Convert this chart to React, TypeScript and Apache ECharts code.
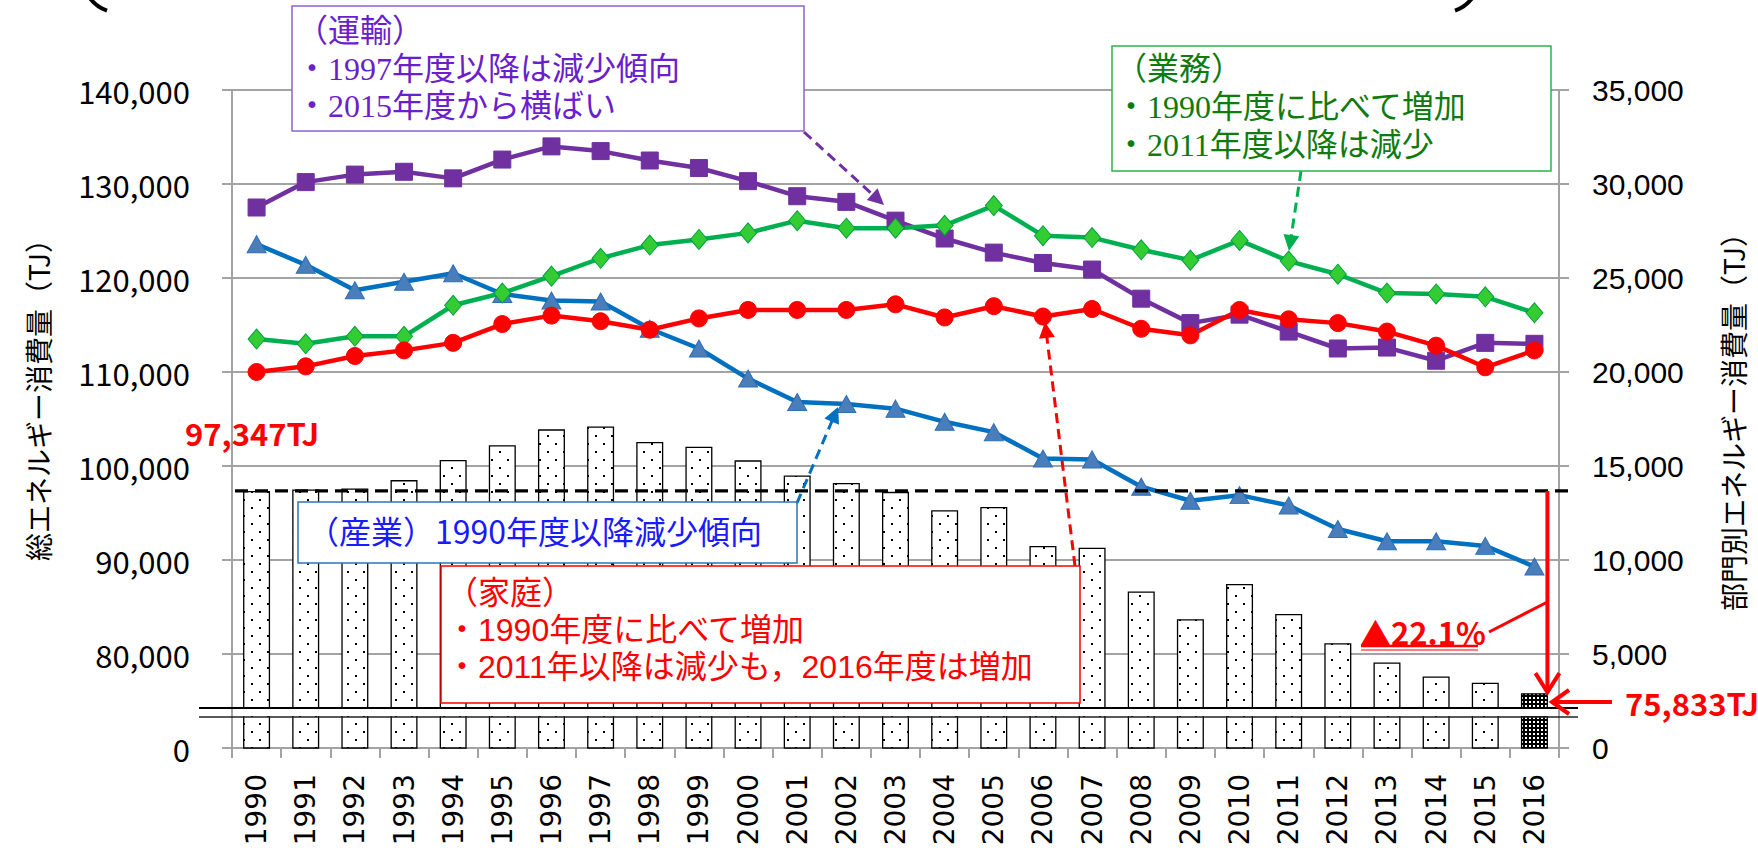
import { useEffect, useRef } from 'react';
import * as echarts from 'echarts';

// ---- data ----
const years = ['1990','1991','1992','1993','1994','1995','1996','1997','1998','1999','2000','2001','2002','2003','2004','2005','2006','2007','2008','2009','2010','2011','2012','2013','2014','2015','2016'];
// 総エネルギー消費量 (TJ)
const totalEnergy = [97347, 97500, 97600, 98500, 100650, 102200, 103900, 104200, 102550, 102050, 100600, 99000, 98200, 97250, 95300, 95650, 91500, 91300, 86650, 83700, 87450, 84250, 81150, 79100, 77600, 76950, 75833];
// 部門別 (TJ)
const industry = [26800, 25700, 24350, 24800, 25250, 24150, 23800, 23750, 22300, 21250, 19650, 18400, 18300, 18050, 17350, 16800, 15400, 15350, 13900, 13150, 13450, 12900, 11650, 11000, 11000, 10750, 9650];
const transport = [28750, 30100, 30500, 30650, 30300, 31300, 32000, 31750, 31250, 30850, 30150, 29350, 29050, 28050, 27100, 26350, 25800, 25450, 23900, 22600, 23050, 22150, 21250, 21300, 20600, 21550, 21500];
const commercial = [21750, 21500, 21900, 21900, 23550, 24200, 25100, 26050, 26750, 27050, 27400, 28050, 27650, 27650, 27800, 28850, 27250, 27150, 26500, 25950, 27000, 25900, 25200, 24200, 24150, 24000, 23150];
const household = [20000, 20300, 20850, 21150, 21550, 22550, 23000, 22700, 22250, 22850, 23300, 23300, 23300, 23600, 22900, 23500, 22950, 23350, 22300, 21950, 23300, 22800, 22600, 22150, 21400, 20250, 21150];

const leftAxisMin = 70000; // shown as "0" (broken axis)
const leftAxisMax = 140000;
const leftAxisStep = 10000;
const rightAxisMax = 35000;
const rightAxisStep = 5000;
const baseYearTotal = 97347;
const lastYearTotal = 75833;

const leftTitle = '総エネルギー消費量（TJ）';
const rightTitle = '部門別エネルギー消費量（TJ）';
const transportNote = ['（運輸）', '・1997年度以降は減少傾向', '・2015年度から横ばい'];
const commercialNote = ['（業務）', '・1990年度に比べて増加', '・2011年度以降は減少'];
const industryNote = '（産業）1990年度以降減少傾向';
const householdNote = ['（家庭）', '・1990年度に比べて増加', '・2011年以降は減少も，2016年度は増加'];
const changeLabel = '▲22.1%';
const baseLabel = '97,347TJ';
const lastLabel = '75,833TJ';

const GRID = '#A3A3A3';
const CJK = "'Noto Sans CJK JP', sans-serif";
const MIX = "'Liberation Serif', 'Noto Sans CJK JP', serif";
const MIXS = "'Liberation Sans', 'Noto Sans CJK JP', sans-serif";

function makeDots(): HTMLCanvasElement {
  const c = document.createElement('canvas');
  c.width = 16; c.height = 16;
  const g = c.getContext('2d')!;
  g.fillStyle = '#fff'; g.fillRect(0, 0, 16, 16);
  g.fillStyle = '#000'; g.fillRect(3, 3, 2, 2); g.fillRect(11, 11, 2, 2);
  return c;
}
function makeDense(): HTMLCanvasElement {
  const c = document.createElement('canvas');
  c.width = 4; c.height = 4;
  const g = c.getContext('2d')!;
  g.fillStyle = '#000'; g.fillRect(0, 0, 4, 4);
  g.fillStyle = '#fff'; g.fillRect(1, 1, 2, 2);
  return c;
}

function arrow(x1: number, y1: number, x2: number, y2: number, color: string, dashed: boolean, lw = 3, L = 16, W = 8) {
  const dx = x2 - x1, dy = y2 - y1, len = Math.hypot(dx, dy), ux = dx / len, uy = dy / len;
  const bx = x2 - ux * L, by = y2 - uy * L;
  return [
    { type: 'line', z: 60, shape: { x1, y1, x2: bx + ux * 2, y2: by + uy * 2 }, style: { stroke: color, lineWidth: lw, lineDash: dashed ? [10, 6] : null } },
    { type: 'polygon', z: 60, shape: { points: [[x2, y2], [bx - uy * W, by + ux * W], [bx + uy * W, by - ux * W]] }, style: { fill: color } },
  ];
}

function txt(x: number, y: number, text: string, fill: string, fontSize: number, fontFamily: string, extraStyle: any = {}) {
  return { type: 'text', z: 70, x, y, style: { text, fill, fontSize, fontFamily, align: 'left', verticalAlign: 'middle', ...extraStyle } };
}

export default function App() {
  const ref = useRef<HTMLDivElement>(null);
  useEffect(() => {
    if (!ref.current) return;
    const chart = echarts.init(ref.current, null, { renderer: 'svg' });
    const dotPattern = { image: makeDots(), repeat: 'repeat', imageWidth: 16, imageHeight: 16 };
    const densePattern = { image: makeDense(), repeat: 'repeat', imageWidth: 4, imageHeight: 4 };

    const axisLineStyle = { color: GRID, width: 2 };
    const option: any = {
      animation: false,
      backgroundColor: '#fff',
      grid: { left: 232, right: 199, top: 90, bottom: 103 },
      xAxis: {
        type: 'category', data: years, boundaryGap: true,
        axisLine: { show: true, lineStyle: axisLineStyle },
        axisTick: { show: true, length: 10, interval: 0, lineStyle: axisLineStyle },
        axisLabel: { rotate: 90, interval: 0, margin: 26, color: '#000', fontSize: 28, fontFamily: 'DejaVu Sans' },
        splitLine: { show: false },
      },
      yAxis: [
        {
          type: 'value', position: 'left', min: leftAxisMin, max: leftAxisMax, interval: leftAxisStep,
          axisLine: { show: true, lineStyle: axisLineStyle },
          axisTick: { show: true, length: 10, lineStyle: axisLineStyle },
          splitLine: { show: true, lineStyle: { color: GRID, width: 2 } },
          axisLabel: {
            margin: 42, color: '#000', fontSize: 31, fontFamily: CJK,
            formatter: (v: number) => (v === leftAxisMin ? '0' : v.toLocaleString('en-US')),
          },
        },
        {
          type: 'value', position: 'right', min: 0, max: rightAxisMax, interval: rightAxisStep,
          axisLine: { show: true, lineStyle: axisLineStyle },
          axisTick: { show: true, length: 10, lineStyle: axisLineStyle },
          splitLine: { show: false },
          axisLabel: { margin: 33, color: '#000', fontSize: 30, fontFamily: "'Liberation Sans', Arial, sans-serif", formatter: (v: number) => v.toLocaleString('en-US') },
        },
      ],
      series: [
        {
          type: 'bar', name: '総エネルギー消費量', yAxisIndex: 0, barWidth: 27, z: 1,
          data: totalEnergy.map((v, i) => ({ value: v, itemStyle: { color: i === totalEnergy.length - 1 ? densePattern : dotPattern } })),
          itemStyle: { borderColor: '#000', borderWidth: 1.3 },
        },
        {
          type: 'line', name: '産業', yAxisIndex: 1, data: industry, z: 3,
          symbol: 'triangle', symbolSize: [19, 17], showAllSymbol: true,
          lineStyle: { color: '#0070C0', width: 4.5 },
          itemStyle: { color: '#4A7EBB', borderColor: '#2F6DB5', borderWidth: 1 },
        },
        {
          type: 'line', name: '運輸', yAxisIndex: 1, data: transport, z: 3,
          symbol: 'rect', symbolSize: 17, showAllSymbol: true,
          lineStyle: { color: '#7030A0', width: 4.5 },
          itemStyle: { color: '#7030A0', borderColor: '#7030A0', borderWidth: 1 },
        },
        {
          type: 'line', name: '業務', yAxisIndex: 1, data: commercial, z: 3,
          symbol: 'diamond', symbolSize: [17, 20], showAllSymbol: true,
          lineStyle: { color: '#00B050', width: 4.5 },
          itemStyle: { color: '#33CC33', borderColor: '#00A040', borderWidth: 1 },
        },
        {
          type: 'line', name: '家庭', yAxisIndex: 1, data: household, z: 3,
          symbol: 'circle', symbolSize: 17, showAllSymbol: true,
          lineStyle: { color: '#FF0000', width: 4.5 },
          itemStyle: { color: '#FF0000', borderColor: '#FF0000', borderWidth: 1 },
        },
      ],
    };
    chart.setOption(option);

    const yBase = chart.convertToPixel({ yAxisIndex: 0 }, baseYearTotal) as number;
    const yLast = chart.convertToPixel({ yAxisIndex: 0 }, lastYearTotal) as number;
    const xLast = chart.convertToPixel({ xAxisIndex: 0 }, years[years.length - 1]) as number;
    const xV = xLast + 13;
    const plotL = 232, plotR = 1559;

    const g: any[] = [];
    // broken axis band
    g.push({ type: 'rect', z: 40, shape: { x: plotL + 1, y: 709, width: plotR - plotL - 2, height: 7 }, style: { fill: '#fff' } });
    g.push({ type: 'line', z: 41, shape: { x1: 199, y1: 708, x2: 1578, y2: 708 }, style: { stroke: '#000', lineWidth: 2 } });
    g.push({ type: 'line', z: 41, shape: { x1: 199, y1: 717, x2: 1578, y2: 717 }, style: { stroke: '#222', lineWidth: 1.6 } });
    // base dashed line
    g.push({ type: 'line', z: 45, shape: { x1: 235, y1: yBase, x2: 1572, y2: yBase }, style: { stroke: '#000', lineWidth: 3.2, lineDash: [13, 7] } });

    // title parentheses (cut off at top)
    g.push({ type: 'arc', z: 50, shape: { cx: 120, cy: -25, r: 38, startAngle: (110 * Math.PI) / 180, endAngle: (145 * Math.PI) / 180, clockwise: true }, style: { stroke: '#000', lineWidth: 4, fill: 'none' } });
    g.push({ type: 'arc', z: 50, shape: { cx: 1442, cy: -25, r: 38, startAngle: (35 * Math.PI) / 180, endAngle: (70 * Math.PI) / 180, clockwise: true }, style: { stroke: '#000', lineWidth: 4, fill: 'none' } });

    // axis titles
    g.push({ type: 'text', z: 50, x: 38, y: 393, rotation: Math.PI / 2, style: { text: leftTitle, fill: '#000', fontSize: 28, fontFamily: CJK, align: 'center', verticalAlign: 'middle' } });
    g.push({ type: 'text', z: 50, x: 1733, y: 415, rotation: Math.PI / 2, style: { text: rightTitle, fill: '#000', fontSize: 28, fontFamily: CJK, align: 'center', verticalAlign: 'middle' } });

    // purple (transport) note
    g.push(...arrow(804, 132, 884, 205, '#7030A0', true));
    g.push({ type: 'rect', z: 65, shape: { x: 292, y: 6, width: 512, height: 125 }, style: { fill: '#fff', stroke: '#8F63C9', lineWidth: 1.5 } });
    g.push(txt(296, 68.5, transportNote.join('\n'), '#6A1ECC', 32, MIX, { lineHeight: 37.5 }));

    // green (commercial) note
    g.push(...arrow(1301, 171, 1289, 251, '#00B050', true));
    g.push({ type: 'rect', z: 65, shape: { x: 1112, y: 46, width: 439, height: 125 }, style: { fill: '#fff', stroke: '#2DB34A', lineWidth: 1.5 } });
    g.push(txt(1115, 107, commercialNote.join('\n'), '#0F7B0F', 32, MIX, { lineHeight: 38 }));

    // blue (industry) note
    g.push(...arrow(797, 503, 838, 407, '#0070C0', true));
    g.push({ type: 'rect', z: 65, shape: { x: 298, y: 502, width: 499, height: 61 }, style: { fill: '#fff', stroke: '#2E75B6', lineWidth: 1.5 } });
    g.push(txt(307, 530, industryNote, '#1A1AFF', 32, CJK));

    // red (household) note
    g.push(...arrow(1075, 566, 1045, 322, '#FF0000', true));
    g.push({ type: 'rect', z: 65, shape: { x: 441, y: 566, width: 639, height: 137 }, style: { fill: '#fff', stroke: '#FF0000', lineWidth: 1.5 } });
    g.push(txt(446, 630, householdNote.join('\n'), '#FF0000', 32, MIXS, { lineHeight: 37 }));

    // value labels
    g.push(txt(185, 432, baseLabel, '#FF0000', 31, CJK, { fontWeight: 'bold' }));
    g.push(txt(1625, 702, lastLabel, '#FF0000', 31, CJK, { fontWeight: 'bold' }));

    // red solid arrows
    g.push({ type: 'line', z: 60, shape: { x1: 1612, y1: 702, x2: 1553, y2: 702 }, style: { stroke: '#FF0000', lineWidth: 4 } });
    g.push({ type: 'polyline', z: 60, shape: { points: [[1569, 690], [1552, 702], [1569, 714]] }, style: { stroke: '#FF0000', lineWidth: 4, fill: 'none' } });
    g.push({ type: 'line', z: 60, shape: { x1: xV, y1: yBase, x2: xV, y2: yLast - 2 }, style: { stroke: '#FF0000', lineWidth: 4 } });
    g.push({ type: 'polyline', z: 60, shape: { points: [[xV - 12, yLast - 20], [xV, yLast - 1], [xV + 12, yLast - 20]] }, style: { stroke: '#FF0000', lineWidth: 4, fill: 'none' } });
    g.push({ type: 'line', z: 60, shape: { x1: xV, y1: 602, x2: 1489, y2: 632 }, style: { stroke: '#FF0000', lineWidth: 3 } });
    g.push(txt(1360, 631, changeLabel, '#FF0000', 31, CJK, { fontWeight: 'bold' }));
    g.push({ type: 'line', z: 60, shape: { x1: 1361, y1: 646, x2: 1478, y2: 646 }, style: { stroke: '#FF0000', lineWidth: 2.5 } });
    g.push({ type: 'line', z: 60, shape: { x1: 1361, y1: 650, x2: 1478, y2: 650 }, style: { stroke: '#FF0000', lineWidth: 1 } });

    chart.setOption({ graphic: g });
    return () => chart.dispose();
  }, []);
  return <div ref={ref} style={{ position: 'fixed', left: 0, top: 0, width: 1758, height: 851, background: '#fff' }} />;
}
